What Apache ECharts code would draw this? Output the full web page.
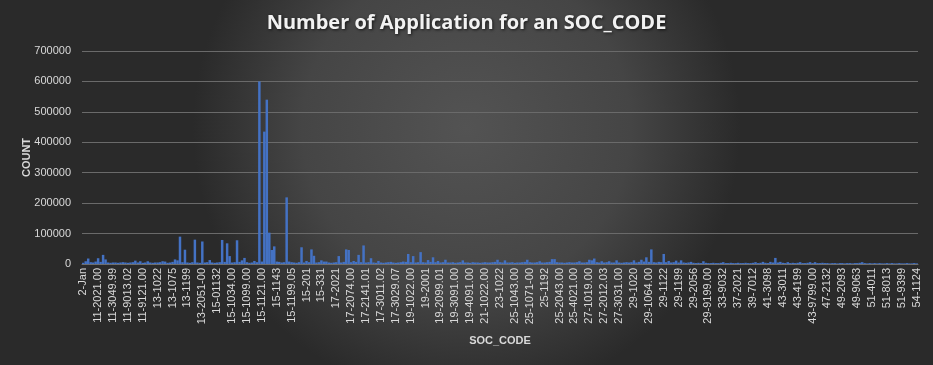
<!DOCTYPE html>
<html>
<head>
<meta charset="utf-8">
<script src="https://cdn.jsdelivr.net/npm/echarts@6/dist/echarts.min.js"></script>
<style>
html,body{margin:0;padding:0;background:#333;}
#chart{width:933px;height:365px;}
</style>
</head>
<body>
<div id="chart"></div>
<script>
// Tick labels shown on the category axis (every 6th category)
var tickLabels = [
  '2-Jan','11-2021.00','11-3049.99','11-9013.02','11-9121.00','13-1022','13-1075','13-1199',
  '13-2051-00','15-01132','15-1034.00','15-1099.00','15-1121.00','15-1143','15-1199.05','15-201',
  '15-331','17-2021','17-2074.00','17-2141.01','17-3011.02','17-3029.07','19-1022.00','19-2001',
  '19-2099.01','19-3091.00','19-4091.00','21-1022.00','23-1022','25-1043.00','25-1071-00','25-1192',
  '25-2043.00','25-4021.00','27-1019.00','27-2012.03','27-3031.00','29-1020','29-1064.00','29-1122',
  '29-1199','29-2056','29-9199.00','33-9032','37-2021','39-7012','41-3098','43-3011',
  '43-4199','43-9799.00','47-2132','49-2093','49-9063','51-4011','51-8013','51-9399','54-1124'
];
var labelStep = 6;

// Application counts per SOC_CODE category
var counts = [
  4000, 9000, 18000, 6000, 5000, 8000, 19000, 7000, 30000, 15000,
  5000, 4000, 5000, 5000, 4000, 5000, 6000, 5000, 4000, 5000,
  6000, 11000, 5000, 9000, 4000, 5000, 9000, 5000, 4000, 5000,
  5000, 6000, 9000, 8000, 4000, 5000, 7000, 15000, 12000, 90000,
  6000, 47000, 5000, 4000, 6000, 80000, 5000, 4000, 74000, 5000,
  6000, 13000, 5000, 4000, 5000, 6000, 79000, 7000, 68000, 26000,
  5000, 6000, 78000, 7000, 12000, 20000, 6000, 4000, 5000, 10000,
  6000, 600000, 8000, 435000, 540000, 103000, 46000, 58000, 8000, 7000,
  5000, 6000, 219000, 8000, 6000, 5000, 4000, 6000, 55000, 5000,
  10000, 6000, 48000, 27000, 5000, 6000, 12000, 8000, 8000, 5000,
  4000, 5000, 6000, 26000, 5000, 7000, 48000, 46000, 6000, 10000,
  7000, 30000, 6000, 61000, 5000, 6000, 19000, 5000, 4000, 10000,
  5000, 4000, 5000, 6000, 7000, 5000, 4000, 5000, 6000, 8000,
  7000, 33000, 6000, 26000, 5000, 6000, 39000, 6000, 5000, 13000,
  7000, 22000, 6000, 10000, 5000, 6000, 14000, 5000, 5000, 6000,
  4000, 5000, 6000, 12000, 5000, 5000, 4000, 6000, 5000, 5000,
  4000, 5000, 6000, 5000, 5000, 6000, 7000, 14000, 6000, 5000,
  12000, 5000, 5000, 6000, 4000, 5000, 5000, 6000, 7000, 14000,
  6000, 5000, 5000, 6000, 9000, 5000, 5000, 6000, 7000, 16000,
  16000, 6000, 5000, 5000, 4000, 5000, 6000, 5000, 5000, 6000,
  9000, 5000, 5000, 6000, 14000, 12000, 18000, 6000, 5000, 9000,
  5000, 6000, 9000, 5000, 5000, 12000, 5000, 4000, 5000, 6000,
  5000, 6000, 12000, 5000, 7000, 14000, 8000, 22000, 7000, 48000,
  6000, 5000, 7000, 6000, 33000, 6000, 10000, 5000, 6000, 11000,
  5000, 12000, 5000, 4000, 5000, 7000, 4000, 3000, 4000, 3000,
  9000, 4000, 3000, 3000, 4000, 3000, 3000, 4000, 6000, 3000,
  3000, 4000, 3000, 3000, 4000, 3000, 3000, 4000, 3000, 3000,
  4000, 6000, 3000, 4000, 7000, 4000, 3000, 7000, 5000, 20000,
  5000, 7000, 4000, 3000, 6000, 3000, 4000, 3000, 4000, 6000,
  3000, 3000, 4000, 6000, 3000, 6000, 3000, 3000, 4000, 3000,
  3000, 2000, 3000, 3000, 2000, 3000, 3000, 2000, 3000, 3000,
  2000, 3000, 3000, 4000, 6000, 3000, 2000, 3000, 2000, 3000,
  2000, 3000, 2000, 2000, 3000, 2000, 3000, 2000, 2000, 3000,
  2000, 2000, 3000, 2000, 2000, 3000, 2000
];

var yMin = 0, yMax = 700000, yStep = 100000;

var categories = counts.map(function (v, i) {
  return (i % labelStep === 0) ? (tickLabels[i / labelStep] || '') : '';
});

var FONT = 'Liberation Sans';
var chart = echarts.init(document.getElementById('chart'), null, {renderer: 'canvas'});
chart.setOption({
  animation: false,
  backgroundColor: {
    type: 'radial', x: 0.5, y: 0.35, r: 0.75,
    colorStops: [
      {offset: 0, color: '#535353'},
      {offset: 0.6, color: '#454545'},
      {offset: 1, color: '#2a2a2a'}
    ]
  },
  title: {
    text: 'Number of Application for an SOC_CODE',
    left: 'center', top: 8,
    textStyle: {
      color: '#f2f2f2', fontSize: 20, fontWeight: 'bold', fontFamily: 'Open Sans',
      textShadowColor: 'rgba(0,0,0,0.7)', textShadowBlur: 3, textShadowOffsetX: 1, textShadowOffsetY: 1
    }
  },
  grid: {left: 82, right: 15, top: 51, bottom: 101, containLabel: false},
  xAxis: {
    type: 'category',
    data: categories,
    name: 'SOC_CODE',
    nameLocation: 'middle',
    nameGap: 71,
    nameMoveOverlap: false,
    nameTextStyle: {color: '#d9d9d9', fontSize: 11, fontWeight: 'bold', fontFamily: FONT},
    axisLine: {show: true, lineStyle: {color: '#6e6e6e'}},
    axisTick: {show: false},
    axisLabel: {
      interval: labelStep - 1, rotate: 90, color: '#d9d9d9', fontSize: 11, fontFamily: FONT, margin: 4
    },
    splitLine: {show: false}
  },
  yAxis: {
    type: 'value',
    min: yMin, max: yMax, interval: yStep,
    name: 'COUNT',
    nameLocation: 'middle',
    nameGap: 50,
    nameMoveOverlap: false,
    nameRotate: 90,
    nameTextStyle: {color: '#d9d9d9', fontSize: 11, fontWeight: 'bold', fontFamily: FONT},
    axisLine: {show: false},
    axisTick: {show: false},
    axisLabel: {
      color: '#d9d9d9', fontSize: 11, fontFamily: FONT, margin: 11,
      formatter: function (v) { return String(v); }
    },
    splitLine: {lineStyle: {color: '#6a6a6a', width: 1}}
  },
  series: [{
    type: 'bar',
    data: counts,
    barCategoryGap: '0%',
    itemStyle: {color: '#4472c4'}
  }]
});
</script>
</body>
</html>
